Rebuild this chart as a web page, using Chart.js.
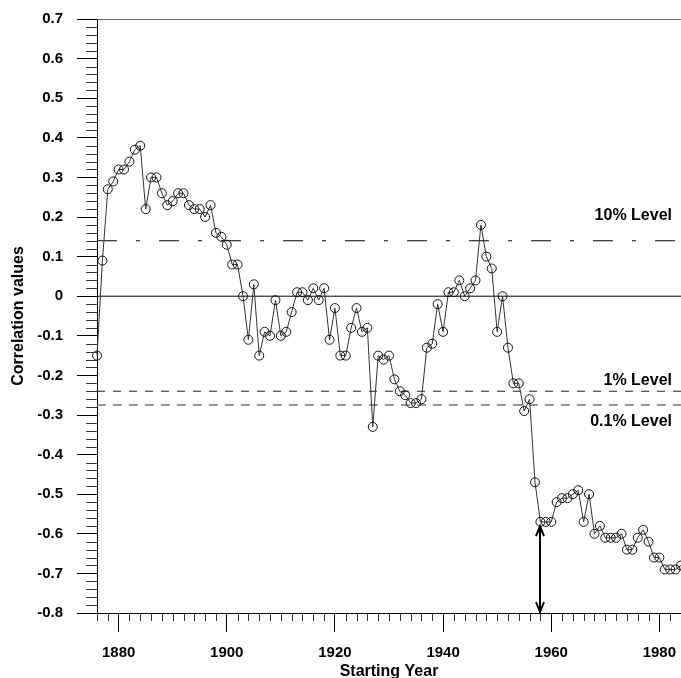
<!DOCTYPE html>
<html><head><meta charset="utf-8">
<script src="https://cdn.jsdelivr.net/npm/chart.js@4"></script>
<style>html,body{margin:0;padding:0;background:#fff;overflow:hidden}#wrap{width:681px;height:678px;position:relative}</style>
</head><body><div id="wrap"><canvas id="c" width="681" height="678"></canvas></div>
<script>
// ---- data ----
const years = [1876,1877,1878,1879,1880,1881,1882,1883,1884,1885,
  1886,1887,1888,1889,1890,1891,1892,1893,1894,1895,
  1896,1897,1898,1899,1900,1901,1902,1903,1904,1905,
  1906,1907,1908,1909,1910,1911,1912,1913,1914,1915,
  1916,1917,1918,1919,1920,1921,1922,1923,1924,1925,
  1926,1927,1928,1929,1930,1931,1932,1933,1934,1935,
  1936,1937,1938,1939,1940,1941,1942,1943,1944,1945,
  1946,1947,1948,1949,1950,1951,1952,1953,1954,1955,
  1956,1957,1958,1959,1960,1961,1962,1963,1964,1965,
  1966,1967,1968,1969,1970,1971,1972,1973,1974,1975,
  1976,1977,1978,1979,1980,1981,1982,1983,1984];
const correlations = [-0.15,0.09,0.27,0.29,0.32,0.32,0.34,0.37,0.38,0.22,
  0.30,0.30,0.26,0.23,0.24,0.26,0.26,0.23,0.22,0.22,
  0.20,0.23,0.16,0.15,0.13,0.08,0.08,0.00,-0.11,0.03,
  -0.15,-0.09,-0.10,-0.01,-0.10,-0.09,-0.04,0.01,0.01,-0.01,
  0.02,-0.01,0.02,-0.11,-0.03,-0.15,-0.15,-0.08,-0.03,-0.09,
  -0.08,-0.33,-0.15,-0.16,-0.15,-0.21,-0.24,-0.25,-0.27,-0.27,
  -0.26,-0.13,-0.12,-0.02,-0.09,0.01,0.01,0.04,0.00,0.02,
  0.04,0.18,0.10,0.07,-0.09,0.00,-0.13,-0.22,-0.22,-0.29,
  -0.26,-0.47,-0.57,-0.57,-0.57,-0.52,-0.51,-0.51,-0.50,-0.49,
  -0.57,-0.50,-0.60,-0.58,-0.61,-0.61,-0.61,-0.60,-0.64,-0.64,
  -0.61,-0.59,-0.62,-0.66,-0.66,-0.69,-0.69,-0.69,-0.68];
const levelLabels = ['10% Level', '1% Level', '0.1% Level'];
const levelValues = [0.14, -0.24, -0.275];
const zeroValue = 0;
const xTickValues = [1880, 1900, 1920, 1940, 1960, 1980];
const yTickValues = [-0.8,-0.7,-0.6,-0.5,-0.4,-0.3,-0.2,-0.1,0,0.1,0.2,0.3,0.4,0.5,0.6,0.7];
const xRange = [1876, 1984];
const yRange = [-0.8, 0.7];
const arrowYear = 1958;
const arrowFrom = -0.578;
const arrowTo = -0.8;

// ---- styles ----
const FONT = 'Arial, "Liberation Sans", sans-serif';
const levelStyles = [
  {color:'#000', width:1, dash:[20,19,4,19], labelOffset:-25},
  {color:'#222', width:1, dash:[8,8], labelOffset:-11},
  {color:'#777', width:1.5, dash:[9,7], labelOffset:16}
];

const hline = v => [{x:xRange[0], y:v}, {x:xRange[1], y:v}];

const datasets = [{
  label:'Correlation',
  data: years.map((yr,i)=>({x:yr, y:correlations[i]})),
  borderColor:'#333', borderWidth:1, tension:0,
  pointRadius:4.5, pointHoverRadius:4.5, pointBorderColor:'#111', pointBorderWidth:1,
  pointBackgroundColor:'rgba(0,0,0,0)', clip:false
},{
  label:'zero', data:hline(zeroValue), borderColor:'#000', borderWidth:1, pointRadius:0
}];
levelValues.forEach((v,i)=>{
  datasets.push({label:levelLabels[i], data:hline(v), borderColor:levelStyles[i].color,
    borderWidth:levelStyles[i].width, borderDash:levelStyles[i].dash, pointRadius:0});
});

const decor = {
  id:'decor',
  afterDraw(chart){
    const {ctx, chartArea:ca, scales:{x, y}} = chart;
    ctx.save();
    // top frame
    ctx.strokeStyle = '#666'; ctx.lineWidth = 1;
    ctx.beginPath();
    ctx.moveTo(ca.left, Math.round(ca.top)+0.5); ctx.lineTo(ca.right, Math.round(ca.top)+0.5);
    ctx.stroke();
    // minor ticks
    ctx.strokeStyle = '#333';
    ctx.beginPath();
    for (let i=0;i<=75;i++){
      if (i%5===0) continue;
      const py = Math.round(y.getPixelForValue(yRange[0] + i*0.02)) + 0.5;
      ctx.moveTo(ca.left-11, py); ctx.lineTo(ca.left, py);
    }
    for (let yr=xRange[0]; yr<=xRange[1]; yr+=2){
      if (yr%20===0) continue;
      const px = Math.round(x.getPixelForValue(yr)) + 0.5;
      ctx.moveTo(px, ca.bottom); ctx.lineTo(px, ca.bottom+8);
    }
    ctx.stroke();
    // level labels
    ctx.fillStyle = '#000';
    ctx.font = 'bold 16px ' + FONT;
    ctx.textAlign = 'right'; ctx.textBaseline = 'middle';
    levelLabels.forEach((t,i)=>{
      ctx.fillText(t, ca.right - 9, y.getPixelForValue(levelValues[i]) + levelStyles[i].labelOffset);
    });
    // double arrow
    const ax = Math.round(x.getPixelForValue(arrowYear));
    const y1 = y.getPixelForValue(arrowFrom), y2 = y.getPixelForValue(arrowTo);
    ctx.strokeStyle = '#000'; ctx.lineWidth = 2;
    ctx.beginPath();
    ctx.moveTo(ax, y1+1); ctx.lineTo(ax, y2-1);
    ctx.moveTo(ax-4, y1+11); ctx.lineTo(ax, y1+1); ctx.lineTo(ax+4, y1+11);
    ctx.moveTo(ax-4, y2-11); ctx.lineTo(ax, y2-1); ctx.lineTo(ax+4, y2-11);
    ctx.stroke();
    ctx.restore();
  }
};

const zeroPad = s => { s.paddingLeft = 0; s.paddingRight = 0; s.paddingTop = 0; s.paddingBottom = 0; };

new Chart(document.getElementById('c'), {
  type:'line',
  data:{datasets},
  plugins:[decor],
  options:{
    responsive:false, devicePixelRatio:1, animation:false,
    layout:{autoPadding:false, padding:{top:19, right:0, bottom:0, left:0}},
    plugins:{legend:{display:false}, tooltip:{enabled:false}, title:{display:false}},
    scales:{
      x:{type:'linear', min:xRange[0], max:xRange[1],
        afterFit(s){ s.height = 65; zeroPad(s); },
        afterBuildTicks(s){ s.ticks = xTickValues.map(v=>({value:v})); },
        ticks:{autoSkip:false, maxRotation:0, padding:12, color:'#000',
          font:{family:FONT, size:15, weight:'bold'}, callback:v=>String(v)},
        grid:{display:true, drawOnChartArea:false, drawTicks:true, tickLength:19, tickColor:'#000', tickWidth:1},
        border:{display:true, color:'#000', width:1},
        title:{display:true, text:'Starting Year', color:'#000',
          font:{family:FONT, size:16, weight:'bold'}, padding:{top:0, bottom:-3}}
      },
      y:{type:'linear', min:yRange[0], max:yRange[1],
        afterFit(s){ s.width = 97; zeroPad(s); },
        afterBuildTicks(s){ s.ticks = yTickValues.map(v=>({value:v})); },
        ticks:{padding:14, color:'#000', font:{family:FONT, size:15, weight:'bold'},
          callback:v=>Math.abs(v)<1e-9 ? '0' : (+v).toFixed(1)},
        grid:{display:true, drawOnChartArea:false, drawTicks:true, tickLength:20, tickColor:'#000', tickWidth:1},
        border:{display:true, color:'#000', width:1},
        title:{display:true, text:'Correlation values', color:'#000',
          font:{family:FONT, size:16, weight:'bold'}, padding:{top:9, bottom:0}}
      }
    }
  }
});
</script></body></html>
